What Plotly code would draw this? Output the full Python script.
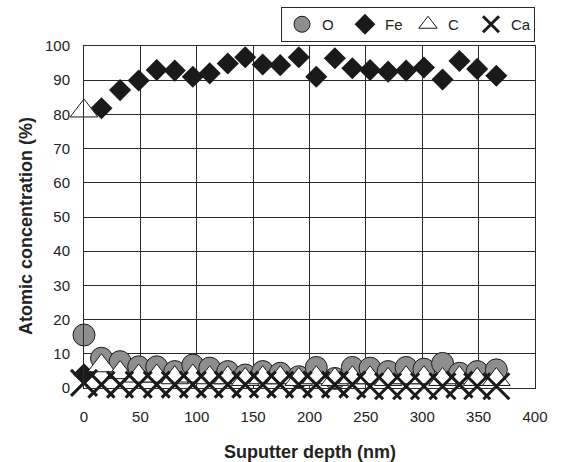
import plotly.graph_objects as go

depth = [0, 15.5, 32, 48.5, 64.5, 80.5, 96.5, 111.5, 127.5, 143, 158.5, 174, 190.5, 206, 222.5, 238, 253.7, 269.7, 285.7, 301.5, 318, 333, 348.7, 365.7]
oxygen = [15.5, 8.7, 7.7, 6.2, 6.2, 4.8, 6.7, 5.8, 4.8, 3.8, 4.8, 4.3, 3.3, 6.0, 2.8, 6.0, 5.8, 4.8, 6.0, 5.5, 7.2, 4.3, 4.8, 5.3]
iron = [4.0, 81.8, 87.1, 89.9, 93.0, 92.8, 91.0, 92.0, 94.9, 96.7, 94.6, 94.4, 96.7, 91.0, 96.4, 93.5, 93.0, 92.5, 92.8, 93.7, 90.2, 95.6, 93.3, 91.3]
carbon = [81.0, 6.5, 4.5, 3.5, 3.5, 3.0, 3.5, 3.0, 3.0, 2.5, 3.0, 3.0, 2.5, 3.0, 2.5, 3.0, 3.0, 2.5, 3.0, 3.0, 2.5, 3.0, 2.5, 2.5]
calcium = [1.5, 1.0, 1.0, 1.0, 1.0, 1.0, 1.0, 1.0, 1.0, 1.0, 1.0, 1.0, 1.0, 1.0, 1.0, 1.0, 0.5, 0.5, 0.5, 0.5, 0.5, 1.0, 0.5, 0.5]

x_ticks = [0, 50, 100, 150, 200, 250, 300, 350, 400]
y_ticks = [0, 10, 20, 30, 40, 50, 60, 70, 80, 90, 100]

FONT = "Liberation Sans, Arial, sans-serif"
INK = "#222222"

fig = go.Figure()
fig.add_trace(go.Scatter(x=depth, y=oxygen, mode="markers", name="O", cliponaxis=False,
                         marker=dict(symbol="circle", size=22, color="#8e8e8e",
                                     line=dict(color="#1a1a1a", width=1))))
fig.add_trace(go.Scatter(x=depth, y=iron, mode="markers", name="Fe", cliponaxis=False,
                         marker=dict(symbol="diamond", size=17, color="#1a1a1a",
                                     line=dict(color="#1a1a1a", width=0))))
fig.add_trace(go.Scatter(x=depth, y=carbon, mode="markers", name="C", cliponaxis=False,
                         marker=dict(symbol="triangle-up", size=24, color="white",
                                     line=dict(color="#1a1a1a", width=1))))
fig.add_trace(go.Scatter(x=depth, y=calcium, mode="markers", name="Ca", cliponaxis=False,
                         marker=dict(symbol="x-thin-open", size=26, color="#1a1a1a",
                                     line=dict(color="#1a1a1a", width=3))))

axis_common = dict(showgrid=True, gridcolor="#2a2a2a", gridwidth=1, showline=True,
                   linecolor="#2a2a2a", linewidth=1, mirror=True, zeroline=False, ticks="",
                   tickfont=dict(family=FONT, size=15, color=INK))

fig.update_xaxes(range=[0, 400], tickvals=x_ticks, ticklabelstandoff=15, **axis_common)
fig.update_yaxes(range=[0, 100], tickvals=y_ticks, ticklabelstandoff=10, **axis_common)

fig.add_annotation(text="<b>Suputter depth (nm)</b>", xref="paper", yref="paper",
                   x=0.5 + (309.5 - 309.5) / 451, y=0, yshift=-(452 - 388),
                   xanchor="center", yanchor="middle", showarrow=False,
                   font=dict(family=FONT, size=18, color=INK))
fig.add_annotation(text="<b>Atomic concentration (%)</b>", xref="paper", yref="paper",
                   x=0, xshift=-(84 - 26), y=(388 - 226) / 342, textangle=-90,
                   xanchor="center", yanchor="middle", showarrow=False,
                   font=dict(family=FONT, size=18, color=INK))

fig.update_layout(
    width=562, height=462,
    margin=dict(l=84, r=27, t=46, b=74, autoexpand=False),
    paper_bgcolor="white", plot_bgcolor="white",
    font=dict(family=FONT, size=15, color=INK),
    showlegend=True,
    legend=dict(orientation="h", x=1.0, xanchor="right", y=1.114, yanchor="top",
                bordercolor="#2a2a2a", borderwidth=1, bgcolor="white",
                font=dict(family=FONT, size=15, color=INK),
                itemwidth=30, tracegroupgap=0, entrywidth=18, entrywidthmode="pixels"),
)

fig.write_html("out.html")
